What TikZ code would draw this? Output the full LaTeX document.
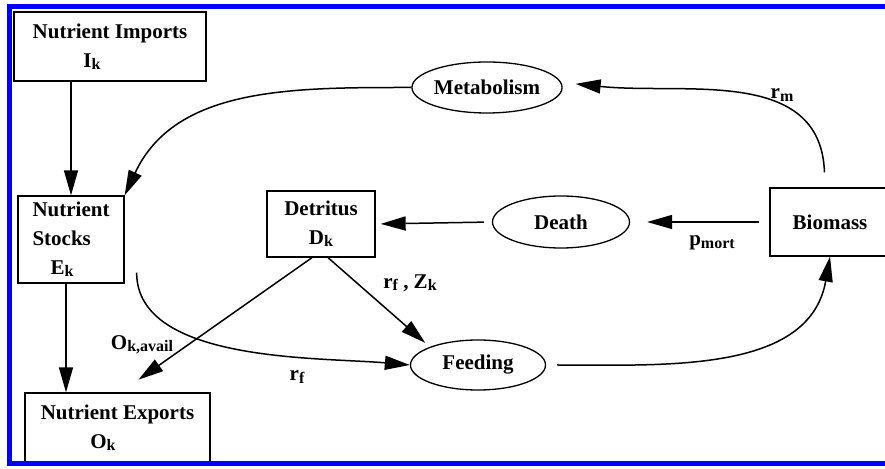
\documentclass[tikz,border=0pt]{standalone}
\usepackage{fontspec}
\setmainfont{Liberation Serif}
\usetikzlibrary{arrows.meta,shapes.geometric,positioning}
\newcommand{\lowtxt}[1]{\raisebox{-0.25ex}{\fontsize{16}{16}\selectfont #1}}
\tikzstyle{block} = [
  rectangle, draw, line width=1.3pt, inner sep=0pt, align=center,
  font=\fontsize{21}{29}\selectfont\bfseries
]
\tikzstyle{oval} = [
  ellipse, draw, line width=1.3pt, inner sep=0pt,
  font=\fontsize{21}{29}\selectfont\bfseries
]
\tikzstyle{lbl} = [inner sep=0pt, font=\fontsize{21}{29}\selectfont\bfseries]
\tikzstyle{flow} = [line width=1.5pt, -{Triangle[length=25pt,width=14pt]}]

\begin{document}
\begin{tikzpicture}[x=1pt,y=1pt]
    \useasboundingbox (0,0) rectangle (885,468);

    \node[block, minimum width=192pt, minimum height=69pt] (imp) at (110,421.5)
      {Nutrient Imports\\\hspace*{-36pt}I\lowtxt{k}};
    \node[block, align=left, minimum width=106pt, minimum height=87pt] (stk) at (71,228.5)
      {Nutrient\\Stocks\\\hspace*{18pt}E\lowtxt{k}};
    \node[block, minimum width=185pt, minimum height=70pt] (exp) at (117.5,40)
      {Nutrient Exports\\\hspace*{-29pt}O\lowtxt{k}};
    \node[block, minimum width=108pt, minimum height=66pt] (det) at (321,244)
      {Detritus\\D\lowtxt{k}};
    \node[block, minimum width=120pt, minimum height=68pt] (bio) at (830,246) {Biomass};

    \node[oval, minimum width=150pt, minimum height=51pt] (met) at (487,380.5) {Metabolism};
    \node[oval, minimum width=137pt, minimum height=52pt] (dth) at (561,246) {Death};
    \node[oval, minimum width=135pt, minimum height=50pt] (fed) at (478,103) {Feeding};

    \draw[flow] (stk.north |- imp.south) -- (stk.north);
    \draw[flow] ([xshift=-5pt]stk.south) -- ([xshift=-5pt]stk.south |- exp.north);
    \draw[flow] (met.west) to[out=180, in=65] (stk.north east);
    \draw[flow, shorten <=15pt, shorten >=13pt] ([xshift=-5pt]bio.north)
      to[out=92, in=-6, looseness=1.1] ([yshift=5pt]met.east);
    \draw[flow, shorten <=10pt, shorten >=17pt] (bio.west) -- (dth.east);
    \draw[flow, shorten <=8pt, shorten >=5pt] (dth.west) -- (det.east);
    \draw[flow, shorten >=6pt] ([xshift=7pt]det.south) -- (fed.north west);
    \draw[flow, shorten >=22pt] ([xshift=-9pt]det.south) -- ([xshift=3pt]exp.north);
    \draw[flow] ([shift={(12pt,11pt)}]stk.south east) to[out=-90, in=175, looseness=0.8] (fed.west);
    \draw[flow, shorten <=11pt] (fed.east) to[out=0, in=-100] (bio.south);

    \node[lbl] (rm) at (782,373) {r\lowtxt{m}};
    \node[lbl] (pmort) at (712,225) {p\lowtxt{mort}};
    \node[lbl] (rfz) at (410,185) {r\lowtxt{f} , Z\lowtxt{k}};
    \node[lbl] (oavail) at (142,123) {O\lowtxt{k,avail}};
    \node[lbl] (rf) at (297,91) {r\lowtxt{f}};

    \draw[blue, line width=5pt] (885,461) -- (9,461) -- (9,5) -- (885,5);
  \end{tikzpicture}
\end{document}
